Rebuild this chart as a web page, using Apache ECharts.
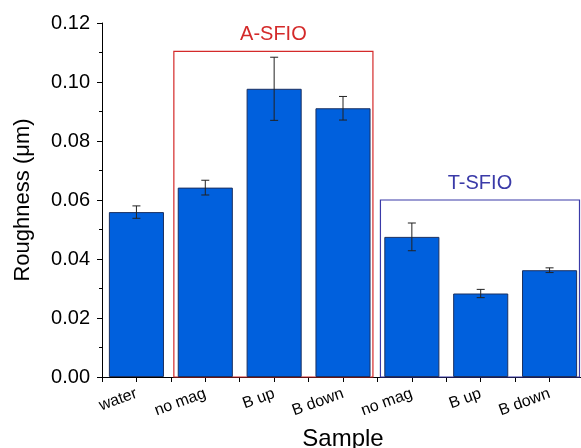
<!DOCTYPE html>
<html>
<head>
<meta charset="utf-8">
<script src="https://cdn.jsdelivr.net/npm/echarts@6/dist/echarts.min.js"></script>
<style>html,body{margin:0;padding:0;background:#fff}#c{width:581px;height:448px}</style>
</head>
<body>
<div id="c"></div>
<script>
var categories = ['water', 'no mag', 'B up', 'B down', 'no mag', 'B up', 'B down'];
var roughness = [0.0559, 0.0642, 0.0977, 0.0911, 0.0475, 0.0283, 0.0362];
var errors = [0.0021, 0.0025, 0.0107, 0.0040, 0.0047, 0.0014, 0.0008];
var groupNames = ['A-SFIO', 'T-SFIO'];
var groupStart = [1, 4];
var groupEnd = [3, 6];
var groupTop = [0.1104, 0.060];
var groupColors = ['#d42a2a', '#3a3aa8'];

var FONT = '"Liberation Sans", Arial, sans-serif';
var idx = categories.map(function (_, i) { return String(i); });

var chart = echarts.init(document.getElementById('c'), null, {renderer: 'canvas'});
var option = {
  animation: false,
  backgroundColor: '#ffffff',
  grid: {left: 102, right: -3, top: 23, bottom: 71, containLabel: false, outerBoundsMode: 'none'},
  xAxis: [{
    type: 'category',
    data: idx,
    boundaryGap: true,
    axisLine: {show: true, lineStyle: {color: '#000', width: 1}},
    axisTick: {show: true, alignWithLabel: false, length: 5, lineStyle: {color: '#000'}},
    axisLabel: {
      interval: 0, rotate: 20, margin: 16, fontSize: 16, color: '#000', fontFamily: FONT,
      formatter: function (v) { return categories[+v]; }
    },
    name: 'Sample', nameLocation: 'middle', nameGap: 50,
    nameTextStyle: {fontSize: 24, color: '#000', fontFamily: FONT}
  }, {
    type: 'category',
    data: idx,
    position: 'bottom',
    axisLine: {show: false},
    axisTick: {show: true, alignWithLabel: true, length: 5, lineStyle: {color: '#000'}},
    axisLabel: {show: false}
  }],
  yAxis: {
    type: 'value',
    min: 0, max: 0.12, interval: 0.02,
    axisLine: {show: true, lineStyle: {color: '#000', width: 1}},
    axisTick: {show: true, length: 5, lineStyle: {color: '#000'}},
    minorTick: {show: true, splitNumber: 2, length: 3, lineStyle: {color: '#000'}},
    splitLine: {show: false},
    axisLabel: {
      fontSize: 20, color: '#000', fontFamily: FONT, margin: 12,
      formatter: function (v) { return v.toFixed(2); }
    },
    name: 'Roughness (\u03bcm)', nameLocation: 'middle', nameGap: 68, nameRotate: 90,
    nameTextStyle: {fontSize: 22, color: '#000', fontFamily: FONT}
  },
  series: [{
    type: 'bar',
    data: roughness,
    barWidth: '80%',
    itemStyle: {color: '#0060dd', borderColor: '#1b3060', borderWidth: 1}
  }, {
    type: 'custom',
    data: roughness.map(function (v, i) { return [i, v - errors[i], v + errors[i]]; }),
    z: 5,
    renderItem: function (params, api) {
      var x = api.value(0);
      var lo = api.coord([x, api.value(1)]);
      var hi = api.coord([x, api.value(2)]);
      var hw = 4;
      var st = {stroke: '#222', lineWidth: 1};
      return {type: 'group', children: [
        {type: 'line', shape: {x1: lo[0], y1: lo[1], x2: hi[0], y2: hi[1]}, style: st},
        {type: 'line', shape: {x1: lo[0] - hw, y1: lo[1], x2: lo[0] + hw, y2: lo[1]}, style: st},
        {type: 'line', shape: {x1: hi[0] - hw, y1: hi[1], x2: hi[0] + hw, y2: hi[1]}, style: st}
      ]};
    }
  }]
};
chart.setOption(option);

function drawGroups() {
  var half = chart.convertToPixel({xAxisIndex: 0}, '1') - chart.convertToPixel({xAxisIndex: 0}, '0');
  half = half / 2;
  var base = chart.convertToPixel({yAxisIndex: 0}, 0);
  var els = [];
  for (var g = 0; g < groupNames.length; g++) {
    var l = chart.convertToPixel({xAxisIndex: 0}, String(groupStart[g])) - half + 3;
    var r = chart.convertToPixel({xAxisIndex: 0}, String(groupEnd[g])) + half - 4.5;
    var t = chart.convertToPixel({yAxisIndex: 0}, groupTop[g]);
    els.push({
      type: 'rect', z: 1,
      shape: {x: l, y: t, width: r - l, height: base - t},
      style: {fill: null, stroke: groupColors[g], lineWidth: 1.2}
    });
    els.push({
      type: 'text', z: 10,
      x: (l + r) / 2, y: t - 17,
      style: {text: groupNames[g], fill: groupColors[g], font: '20px ' + FONT, align: 'center', verticalAlign: 'middle'}
    });
  }
  chart.setOption({graphic: els});
}
drawGroups();
</script>
</body>
</html>
